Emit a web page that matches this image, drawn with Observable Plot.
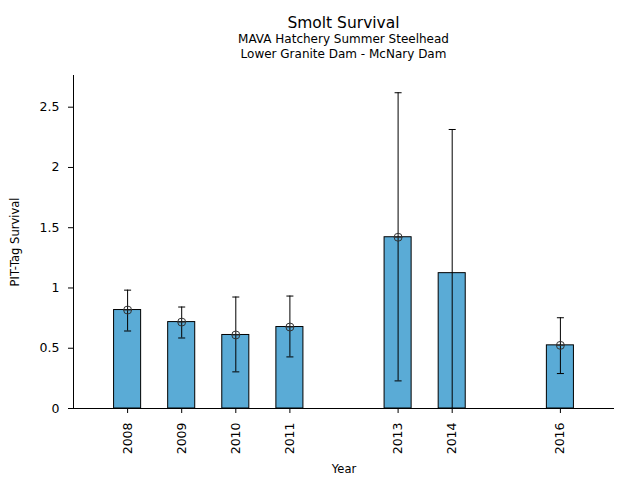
<!DOCTYPE html>
<html>
<head>
<meta charset="utf-8">
<script src="https://cdn.jsdelivr.net/npm/d3@7"></script>
<script src="https://cdn.jsdelivr.net/npm/@observablehq/plot@0.6"></script>
<style>
  html, body { margin: 0; padding: 0; background: #fff; }
  body { font-family: "DejaVu Sans", sans-serif; width: 640px; }
  #head { position: relative; width: 640px; height: 62px; }
  #head div { position: absolute; left: 73px; width: 541px; text-align: center; color: #000; white-space: nowrap; }
  #t1 { top: 14px; font-size: 15.5px; line-height: 18px; }
  #t2 { top: 31.5px; font-size: 12px; line-height: 15px; }
  #t3 { top: 46.5px; font-size: 12px; line-height: 15px; }
  svg { display: block; }
</style>
</head>
<body>
<div id="head">
  <div id="t1">Smolt Survival</div>
  <div id="t2">MAVA Hatchery Summer Steelhead</div>
  <div id="t3">Lower Granite Dam - McNary Dam</div>
</div>
<div id="chart"></div>
<script>
const years    = [2008, 2009, 2010, 2011, 2013, 2014, 2016];
const survival = [0.817, 0.717, 0.610, 0.676, 1.421, 1.123, 0.524];
const lower    = [0.643, 0.585, 0.304, 0.428, 0.229, 0.0, 0.290];
const upper    = [0.982, 0.842, 0.925, 0.933, 2.620, 2.315, 0.753];
const hasMarker = [true, true, true, true, true, false, true];
const yTicks   = [0, 0.5, 1, 1.5, 2, 2.5];
const xLabel = "Year";
const yLabel = "PIT-Tag Survival";

const barHalf = 0.25;   // bar half-width in years
const capHalf = 0.065;  // errorbar cap half-width in years

const data = years.map((yr, i) => ({
  year: yr, value: survival[i], lo: lower[i], hi: upper[i], marker: hasMarker[i]
}));

const circlePlus = {
  draw(context, size) {
    const r = Math.sqrt(size / Math.PI);
    context.moveTo(r, 0);
    context.arc(0, 0, r, 0, 2 * Math.PI);
    context.moveTo(-r, 0);
    context.lineTo(r, 0);
  }
};

const chart = Plot.plot({
  width: 640,
  height: 418,
  marginTop: 13,
  marginBottom: 72,
  marginLeft: 73,
  marginRight: 26,
  style: { fontFamily: "DejaVu Sans, sans-serif", fontSize: "12.5px", color: "#000", background: "#fff" },
  x: { type: "linear", domain: [2007, 2017] },
  y: { domain: [0, 2.763] },
  marks: [
    Plot.rectY(data, {
      x1: d => d.year - barHalf, x2: d => d.year + barHalf,
      y1: 0, y2: "value",
      fill: "#5aabd6", stroke: "#000", strokeWidth: 1
    }),
    Plot.ruleX(data, { x: "year", y1: "lo", y2: "hi", stroke: "#000", strokeWidth: 1 }),
    Plot.link(data, { x1: d => d.year - capHalf, x2: d => d.year + capHalf, y1: "hi", y2: "hi", stroke: "#000", strokeWidth: 1 }),
    Plot.link(data.filter(d => d.lo > 0), { x1: d => d.year - capHalf, x2: d => d.year + capHalf, y1: "lo", y2: "lo", stroke: "#000", strokeWidth: 1 }),
    Plot.dot(data.filter(d => d.marker), { x: "year", y: "value", r: 4, symbol: circlePlus, fill: "none", stroke: "#333", strokeWidth: 1 }),
    Plot.ruleX([2007], { stroke: "#000", strokeWidth: 1 }),
    Plot.ruleY([0], { stroke: "#000", strokeWidth: 1 }),
    Plot.axisX({
      ticks: years, tickFormat: "d", tickRotate: -90, tickSize: 5, tickPadding: 9, label: null
    }),
    Plot.axisY({
      ticks: yTicks, tickFormat: d => String(d), tickSize: 5, tickPadding: 9, label: null
    }),
    Plot.text([xLabel], { text: d => d, frameAnchor: "bottom", dy: 61, textAnchor: "middle", lineAnchor: "middle", fontSize: 11.5, fill: "#000" }),
    Plot.text([yLabel], { text: d => d, frameAnchor: "left", dx: -58, rotate: -90, textAnchor: "middle", lineAnchor: "middle", fontSize: 11.5, fill: "#000" })
  ]
});
document.getElementById("chart").appendChild(chart);
</script>
</body>
</html>
